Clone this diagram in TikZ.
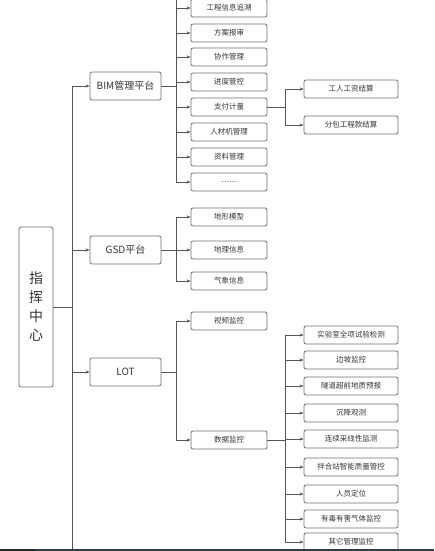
\documentclass[tikz,border=0pt]{standalone}
\usepackage{fontspec}
\setmainfont{Noto Sans CJK SC}
\usetikzlibrary{arrows.meta}
\definecolor{boxgray}{HTML}{6E6E6E}
\definecolor{linegray}{HTML}{555555}
\definecolor{textgray}{HTML}{333333}
\definecolor{stripdark}{HTML}{2E3D4C}
\begin{document}
\begin{tikzpicture}[x=1pt,y=-1pt,
    hub/.style={draw=boxgray,line width=0.8pt,rounded corners=2pt,text=textgray,
      minimum width=34pt,minimum height=160pt,inner sep=0pt,align=center,
      font=\fontsize{14}{19}\selectfont},
    platform/.style={draw=boxgray,line width=0.8pt,rounded corners=2pt,text=textgray,
      minimum width=71pt,minimum height=28pt,inner sep=0pt,font=\fontsize{10}{12}\selectfont},
    item/.style={draw=boxgray,line width=0.8pt,rounded corners=2pt,text=textgray,
      minimum width=76pt,minimum height=18pt,inner sep=0pt,font=\fontsize{7.5}{9}\selectfont},
    subitem/.style={item,minimum width=94pt},
    link/.style={draw=linegray,line width=0.7pt},
    arr/.style={link,-{Stealth[length=4pt,width=3.2pt]}}]
    \useasboundingbox (0,0) rectangle (434,551);

    % centre and platforms
    \node[hub]      (hub) at (36,307)    {指\\挥\\中\\心};
    \node[platform] (bim) at (125.5,86)  {BIM管理平台};
    \node[platform] (gsd) at (125.5,250) {GSD平台};
    \node[platform] (lot) at (125.5,372) {LOT};

    % BIM
    \node[item] (b1) at (229,8)   {工程信息追溯};
    \node[item] (b2) at (229,33)  {方案报审};
    \node[item] (b3) at (229,57)  {协作管理};
    \node[item] (b4) at (229,82)  {进度管控};
    \node[item] (b5) at (229,107) {支付计量};
    \node[item] (b6) at (229,132) {人材机管理};
    \node[item] (b7) at (229,157) {资料管理};
    \node[item] (b8) at (229,182) {……};
    \node[subitem] (p1) at (351,89)  {工人工资结算};
    \node[subitem] (p2) at (351,125) {分包工程款结算};

    % GSD
    \node[item] (g1) at (229,217) {地形模型};
    \node[item] (g2) at (229,250) {地理信息};
    \node[item] (g3) at (229,281) {气象信息};

    % LOT
    \node[item] (l1) at (229,321) {视频监控};
    \node[item] (l2) at (229,440) {数据监控};
    \node[subitem] (d1) at (351,335) {实验室全项试验检测};
    \node[subitem] (d2) at (351,360) {边坡监控};
    \node[subitem] (d3) at (351,386) {隧道超前地质预报};
    \node[subitem] (d4) at (351,413) {沉降观测};
    \node[subitem] (d5) at (351,439) {连续采线性监测};
    \node[subitem] (d6) at (351,467) {拌合站智能质量管控};
    \node[subitem] (d7) at (351,494) {人员定位};
    \node[subitem] (d8) at (351,519) {有毒有害气体监控};
    \node[subitem] (d9) at (351,542) {其它管理监控};

    % bus points
    \coordinate (trunk)    at (72,307);
    \coordinate (trunkend) at (72,551);
    \coordinate (bimbus)   at (176,86);
    \coordinate (bimtop)   at (176,0);
    \coordinate (paybus)   at (285,107);
    \coordinate (gsdbus)   at (176,250);
    \coordinate (lotbus)   at (176,372);
    \coordinate (databus)  at (285,440);

    \draw[link] (hub.east) -- (trunk);
    \draw[link] (trunk) -- (trunkend);
    \draw[arr]  (trunk) |- (bim.west);
    \draw[arr]  (trunk) |- (gsd.west);
    \draw[arr]  (trunk) |- (lot.west);

    \draw[link] (bim.east) -- (bimbus);
    \draw[link] (bimbus) -- (bimtop);
    \draw[arr]  (bimbus) |- (b1.west);
    \draw[arr]  (bimbus) |- (b2.west);
    \draw[arr]  (bimbus) |- (b3.west);
    \draw[arr]  (bimbus) |- (b4.west);
    \draw[arr]  (bimbus) |- (b5.west);
    \draw[arr]  (bimbus) |- (b6.west);
    \draw[arr]  (bimbus) |- (b7.west);
    \draw[arr]  (bimbus) |- (b8.west);

    \draw[link] (b5.east) -- (paybus);
    \draw[arr]  (paybus) |- (p1.west);
    \draw[arr]  (paybus) |- (p2.west);

    \draw[link] (gsd.east) -- (gsdbus);
    \draw[arr]  (gsdbus) |- (g1.west);
    \draw[arr]  (gsdbus) |- (g2.west);
    \draw[arr]  (gsdbus) |- (g3.west);

    \draw[link] (lot.east) -- (lotbus);
    \draw[arr]  (lotbus) |- (l1.west);
    \draw[arr]  (lotbus) |- (l2.west);

    \draw[link] (l2.east) -- (databus);
    \draw[arr]  (databus) |- (d1.west);
    \draw[arr]  (databus) |- (d2.west);
    \draw[arr]  (databus) |- (d3.west);
    \draw[arr]  (databus) |- (d4.west);
    \draw[arr]  (databus) |- (d5.west);
    \draw[arr]  (databus) |- (d6.west);
    \draw[arr]  (databus) |- (d7.west);
    \draw[arr]  (databus) |- (d8.west);
    \draw[arr]  (databus) |- (d9.west);

    % bottom strip
    \fill[stripdark] (0,548.5) rectangle (434,551);
    \fill[black!85]  (0,548.5) rectangle (35,551);
\end{tikzpicture}
\end{document}
